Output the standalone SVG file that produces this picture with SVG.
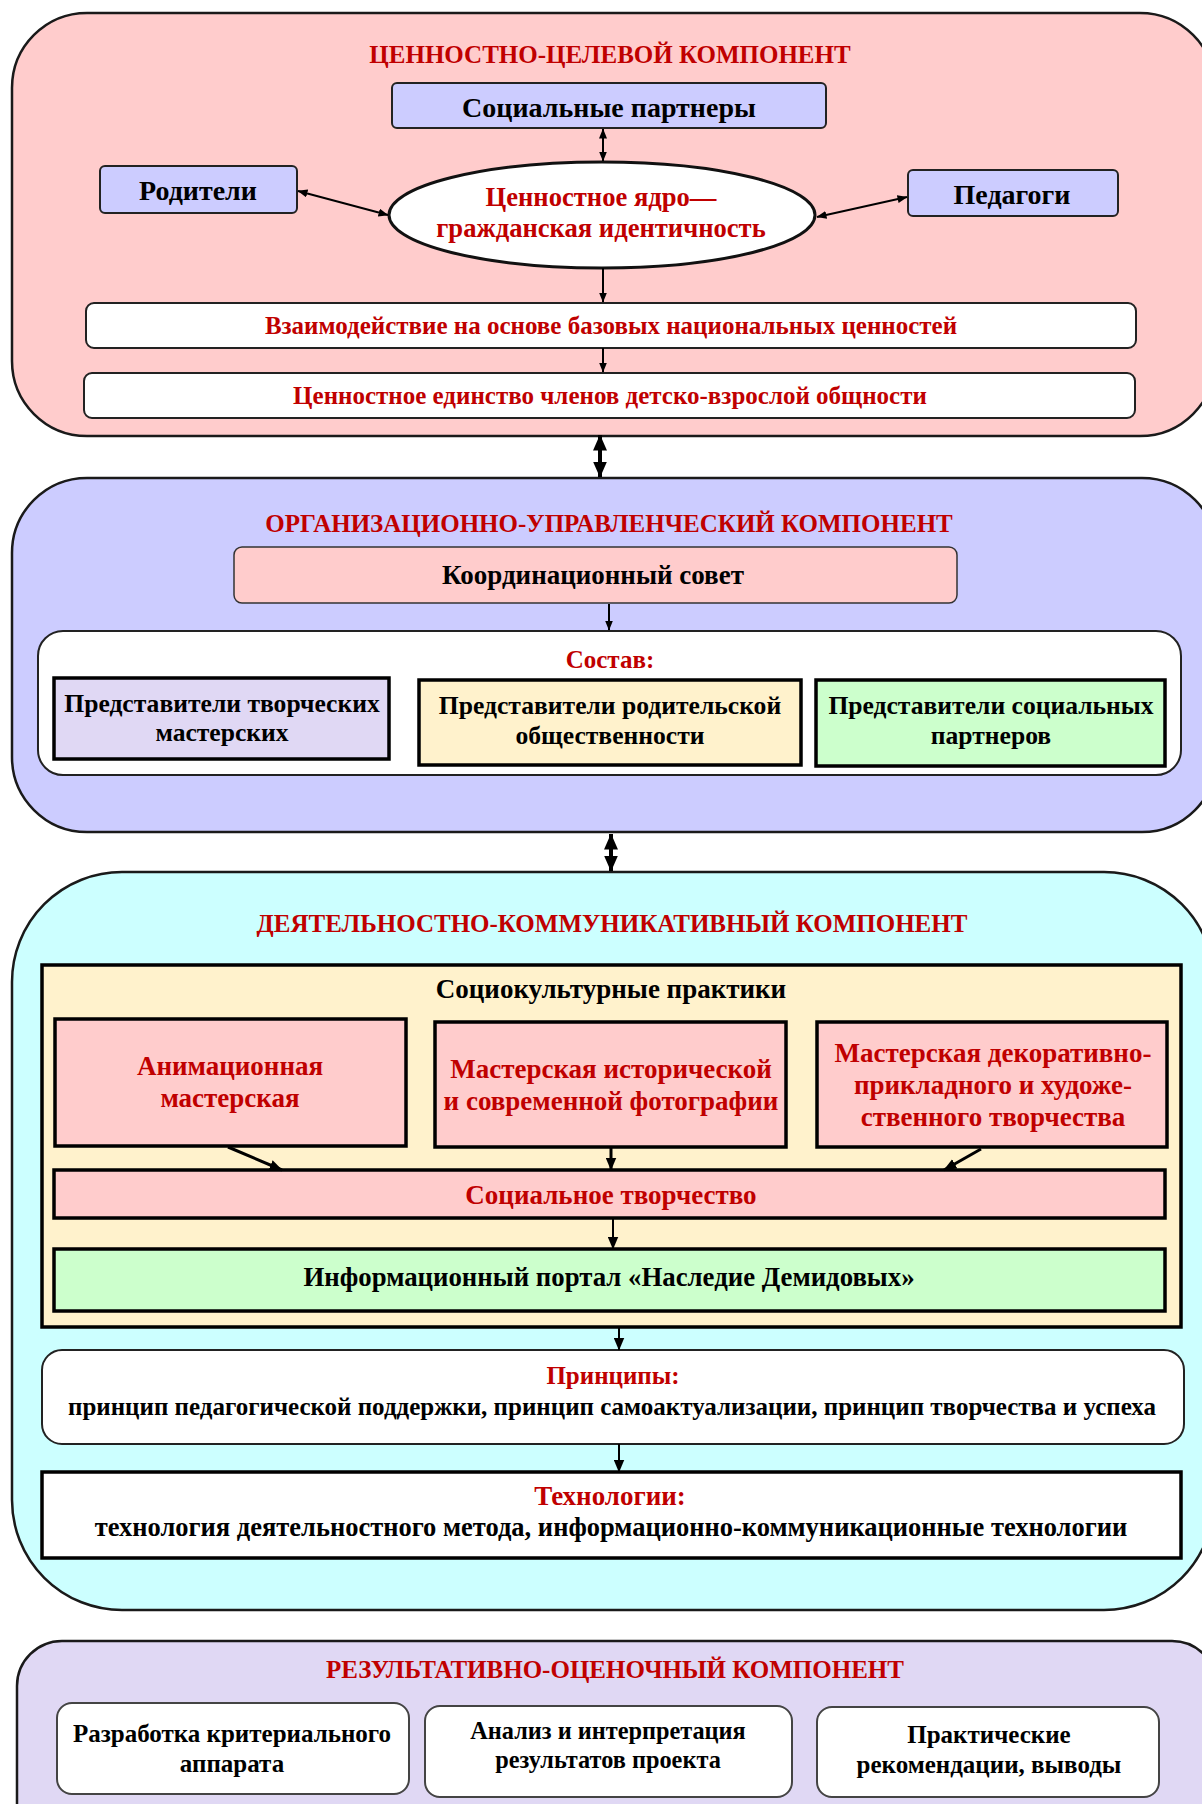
<svg xmlns="http://www.w3.org/2000/svg" width="1202" height="1804" viewBox="0 0 1202 1804">
<defs>
<marker id="ah" viewBox="0 0 10 8" refX="9.5" refY="4" markerWidth="10" markerHeight="8" markerUnits="userSpaceOnUse" orient="auto-start-reverse"><path d="M0,0 L10,4 L0,8 z" fill="#000"/></marker>
<marker id="ahm" viewBox="0 0 12 10" refX="11.5" refY="5" markerWidth="13" markerHeight="11" markerUnits="userSpaceOnUse" orient="auto-start-reverse"><path d="M0,0 L12,5 L0,10 z" fill="#000"/></marker>
<marker id="ahb" viewBox="0 0 16 14" refX="15.5" refY="7" markerWidth="16" markerHeight="14" markerUnits="userSpaceOnUse" orient="auto-start-reverse"><path d="M0,0 L16,7 L0,14 z" fill="#000"/></marker>
</defs>
<style>
text{font-family:"Liberation Serif","Times New Roman",serif;font-weight:bold;text-anchor:middle}
.ttl{font-size:25px;fill:#C00000}
.red{fill:#C00000}
.blk{fill:#000}
.f28{font-size:28px}
.f27{font-size:27px}
.f26{font-size:26.6px}
.f25{font-size:25px}
.f256{font-size:25.6px}
.sec{stroke:#1a1a1a;stroke-width:2.5}
.thin{stroke:#222;stroke-width:2}
.thick{stroke:#000;stroke-width:3.5}
.ln{stroke:#000;stroke-width:2;fill:none}
.lnm{stroke:#000;stroke-width:3;fill:none}
.lnb{stroke:#000;stroke-width:4;fill:none}
</style>

<g id="section-value">
<rect x="12" y="13" width="1203" height="423" rx="75" ry="75" fill="#FFCCCC" class="sec"/>
<text x="610" y="63" class="ttl">ЦЕННОСТНО-ЦЕЛЕВОЙ КОМПОНЕНТ</text>
</g>
<g id="node-social-partners">
<rect x="392" y="83" width="434" height="45" rx="5" fill="#CCCCFF" class="thin"/>
<text x="609" y="117" class="blk f28">Социальные партнеры</text>
</g>
<g id="node-parents">
<rect x="100" y="166" width="197" height="47" rx="5" fill="#CCCCFF" class="thin"/>
<text x="198" y="200" class="blk f28">Родители</text>
</g>
<g id="node-teachers">
<rect x="908" y="170" width="210" height="46" rx="5" fill="#CCCCFF" class="thin"/>
<text x="1012" y="204" class="blk f28">Педагоги</text>
</g>
<g id="node-core">
<ellipse cx="602" cy="215" rx="213" ry="53" fill="#FFFFFF" stroke="#111" stroke-width="3"/>
<text x="601" y="206" class="red f26">Ценностное ядро—</text>
<text x="601" y="237" class="red f26">гражданская идентичность</text>
</g>
<g id="node-interaction">
<rect x="86" y="303" width="1050" height="45" rx="8" fill="#FFFFFF" class="thin"/>
<text x="611" y="334" class="red f25">Взаимодействие на основе базовых национальных ценностей</text>
</g>
<g id="node-unity">
<rect x="84" y="373" width="1051" height="45" rx="8" fill="#FFFFFF" class="thin"/>
<text x="610" y="404" class="red f25">Ценностное единство членов детско-взрослой общности</text>
</g>

<g id="section-org">
<rect x="12" y="478" width="1205" height="354" rx="75" ry="75" fill="#CCCCFF" class="sec"/>
<text x="609" y="532" class="ttl">ОРГАНИЗАЦИОННО-УПРАВЛЕНЧЕСКИЙ КОМПОНЕНТ</text>
</g>
<g id="node-council">
<rect x="234" y="547" width="723" height="56" rx="8" fill="#FFCCCC" stroke="#333" stroke-width="1.5"/>
<text x="593" y="584" class="blk f27">Координационный совет</text>
</g>
<g id="node-composition">
<rect x="38" y="631" width="1143" height="144" rx="25" fill="#FFFFFF" class="thin"/>
<text x="610" y="668" class="red f25">Состав:</text>
</g>
<g id="node-rep-workshops">
<rect x="54" y="678" width="335" height="81" fill="#E0D8F4" class="thick"/>
<text x="222" y="712" class="blk f256">Представители творческих</text>
<text x="222" y="741" class="blk f256">мастерских</text>
</g>
<g id="node-rep-parents">
<rect x="419" y="680" width="382" height="85" fill="#FFF2CC" class="thick"/>
<text x="610" y="714" class="blk f256">Представители родительской</text>
<text x="610" y="744" class="blk f256">общественности</text>
</g>
<g id="node-rep-partners">
<rect x="816" y="680" width="349" height="86" fill="#CCFFCC" class="thick"/>
<text x="991" y="714" class="blk f256">Представители социальных</text>
<text x="991" y="744" class="blk f256">партнеров</text>
</g>

<g id="section-activity">
<rect x="12" y="872" width="1202" height="738" rx="110" ry="110" fill="#CCFFFF" class="sec"/>
<text x="612" y="932" class="ttl" font-size="24.6">ДЕЯТЕЛЬНОСТНО-КОММУНИКАТИВНЫЙ КОМПОНЕНТ</text>
</g>
<g id="node-practices">
<rect x="42" y="965" width="1139" height="362" fill="#FFF2CC" class="thick"/>
<text x="611" y="998" class="blk f27">Социокультурные практики</text>
</g>
<g id="node-animation">
<rect x="55" y="1019" width="351" height="127" fill="#FFCCCC" class="thick"/>
<text x="230" y="1075" class="red f27">Анимационная</text>
<text x="230" y="1107" class="red f27">мастерская</text>
</g>
<g id="node-photo">
<rect x="435" y="1022" width="351" height="125" fill="#FFCCCC" class="thick"/>
<text x="611" y="1078" class="red f27">Мастерская исторической</text>
<text x="611" y="1110" class="red f27">и современной фотографии</text>
</g>
<g id="node-decor">
<rect x="817" y="1022" width="350" height="125" fill="#FFCCCC" class="thick"/>
<text x="993" y="1062" class="red f27">Мастерская декоративно-</text>
<text x="993" y="1094" class="red f27">прикладного и художе-</text>
<text x="993" y="1126" class="red f27">ственного творчества</text>
</g>
<g id="node-social-creativity">
<rect x="54" y="1170" width="1111" height="48" fill="#FFCCCC" class="thick"/>
<text x="611" y="1204" class="red f27">Социальное творчество</text>
</g>
<g id="node-portal">
<rect x="54" y="1249" width="1111" height="62" fill="#CCFFCC" class="thick"/>
<text x="609" y="1286" class="blk" font-size="26.8">Информационный портал «Наследие Демидовых»</text>
</g>
<g id="node-principles">
<rect x="42" y="1350" width="1142" height="94" rx="20" fill="#FFFFFF" class="thin"/>
<text x="613" y="1384" class="red f25">Принципы:</text>
<text x="612" y="1415" class="blk f25">принцип педагогической поддержки, принцип самоактуализации, принцип творчества и успеха</text>
</g>
<g id="node-technologies">
<rect x="42" y="1472" width="1139" height="86" fill="#FFFFFF" class="thick"/>
<text x="610" y="1505" class="red f27">Технологии:</text>
<text x="611" y="1536" class="blk" font-size="26.5">технология деятельностного метода, информационно-коммуникационные технологии</text>
</g>

<g id="section-result">
<rect x="17" y="1641" width="1200" height="220" rx="45" ry="45" fill="#E0D8F4" class="sec"/>
<text x="615" y="1678" class="ttl">РЕЗУЛЬТАТИВНО-ОЦЕНОЧНЫЙ КОМПОНЕНТ</text>
</g>
<g id="node-criteria">
<rect x="57" y="1703" width="352" height="91" rx="15" fill="#FFFFFF" stroke="#444" stroke-width="2"/>
<text x="232" y="1742" class="blk f25">Разработка критериального</text>
<text x="232" y="1772" class="blk f25">аппарата</text>
</g>
<g id="node-analysis">
<rect x="425" y="1706" width="367" height="91" rx="15" fill="#FFFFFF" stroke="#444" stroke-width="2"/>
<text x="608" y="1739" class="blk" font-size="24.3">Анализ и интерпретация</text>
<text x="608" y="1768" class="blk" font-size="24.3">результатов проекта</text>
</g>
<g id="node-recommendations">
<rect x="817" y="1707" width="342" height="90" rx="15" fill="#FFFFFF" stroke="#444" stroke-width="2"/>
<text x="989" y="1743" class="blk f25">Практические</text>
<text x="989" y="1773" class="blk f25">рекомендации, выводы</text>
</g>

<g id="connectors">
<line x1="603" y1="129" x2="603" y2="161" class="ln" marker-start="url(#ah)" marker-end="url(#ah)"/>
<line x1="298" y1="191" x2="388" y2="215" class="ln" marker-start="url(#ah)" marker-end="url(#ah)"/>
<line x1="907" y1="197" x2="817" y2="217" class="ln" marker-start="url(#ah)" marker-end="url(#ah)"/>
<line x1="603" y1="268" x2="603" y2="302" class="ln" marker-end="url(#ah)"/>
<line x1="603" y1="348" x2="603" y2="372" class="ln" marker-end="url(#ah)"/>
<line x1="600" y1="435" x2="600" y2="477" class="lnb" marker-start="url(#ahb)" marker-end="url(#ahb)"/>
<line x1="609" y1="604" x2="609" y2="630" class="ln" marker-end="url(#ah)"/>
<line x1="611" y1="834" x2="611" y2="871" class="lnb" marker-start="url(#ahb)" marker-end="url(#ahb)"/>
<line x1="228" y1="1147" x2="282" y2="1170" class="lnm" marker-end="url(#ahm)"/>
<line x1="611" y1="1147" x2="611" y2="1170" class="lnm" marker-end="url(#ahm)"/>
<line x1="981" y1="1149" x2="944" y2="1170" class="lnm" marker-end="url(#ahm)"/>
<line x1="613" y1="1218" x2="613" y2="1249" class="ln" marker-end="url(#ahm)"/>
<line x1="619" y1="1327" x2="619" y2="1350" class="ln" marker-end="url(#ahm)"/>
<line x1="619" y1="1444" x2="619" y2="1472" class="ln" marker-end="url(#ahm)"/>
</g>
</svg>
